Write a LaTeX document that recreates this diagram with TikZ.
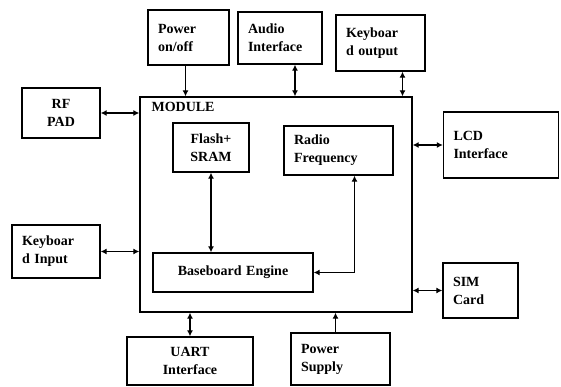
\documentclass[tikz,border=0pt]{standalone}
\usepackage{fontspec}
\setmainfont{Liberation Serif}
\usetikzlibrary{arrows.meta}
\begin{document}
\begin{tikzpicture}[
  x=1pt, y=-1pt,
  every node/.style={font=\bfseries\fontsize{14}{18}\selectfont, align=left},
  blk/.style={draw, line width=1.3pt, inner xsep=10pt, inner ysep=2pt},
  link/.style={line width=1.4pt, {Latex[length=6pt,width=6pt]}-{Latex[length=6pt,width=6pt]}},
  feed/.style={line width=1.4pt, -{Latex[length=6pt,width=6pt]}}
]
\useasboundingbox (0,0) rectangle (561,387);
% outer blocks
\node[blk, text width=61, minimum height=55] (pwr) at (188.5,37.5) {Power\\on/off};
\node[blk, text width=64, minimum height=52] (audio) at (280,38) {Audio\\Interface};
\node[blk, text width=69, minimum height=56] (kbout) at (380.5,43) {Keyboar\\d output};
\node[blk, text width=58, minimum height=50, align=center] (rf) at (61,113) {RF\\PAD};
\node[blk, text width=68, minimum height=53] (kbin) at (56,251.5) {Keyboar\\d Input};
\node[blk, text width=95, minimum height=66] (lcd) at (501,145) {LCD\\Interface};
\node[blk, text width=55, minimum height=55] (sim) at (480.5,290.5) {SIM\\Card};
\node[blk, text width=106, minimum height=48, align=center] (uart) at (190,361) {UART\\Interface};
\node[blk, text width=79, minimum height=52] (psu) at (340.5,359) {Power\\Supply};
% module and its parts
\node[blk, minimum width=272, minimum height=215] (module) at (276,204.5) {};
\node[anchor=north west, inner sep=2pt] (modlabel) at ([xshift=10,yshift=-4]module.north west) {MODULE};
\node[blk, text width=56, minimum height=49, align=center] (flash) at (211,147.5) {Flash+\\SRAM};
\node[blk, text width=89, minimum height=49] (radio) at (338.5,150.5) {Radio\\Frequency};
\node[blk, text width=140, minimum height=39, align=center] (base) at (233,272.5) {Baseboard Engine};
% tap points
\coordinate (pwrtap) at ([xshift=-3]pwr.south);
\coordinate (audiotap) at ([xshift=15]audio.south);
\coordinate (kbtap) at ([xshift=22]kbout.south);
\coordinate (psutap) at ([xshift=-5]psu.north);
\coordinate (radiotap) at ([xshift=16]radio.south);
% connections
\draw[feed] (pwrtap) -- (pwrtap |- module.north);
\draw[link] (audiotap) -- (audiotap |- module.north);
\draw[link] (kbtap) -- (kbtap |- module.north);
\draw[link] (rf.east) -- (rf.east -| module.west);
\draw[link] (kbin.east) -- (kbin.east -| module.west);
\draw[link] (lcd.west) -- (lcd.west -| module.east);
\draw[link] (sim.west) -- (sim.west -| module.east);
\draw[link] (uart.north) -- (uart.north |- module.south);
\draw[feed] (psutap) -- (psutap |- module.south);
\draw[link] (flash.south) -- (flash.south |- base.north);
\draw[link] (radiotap) |- (base.east);
\end{tikzpicture}
\end{document}
